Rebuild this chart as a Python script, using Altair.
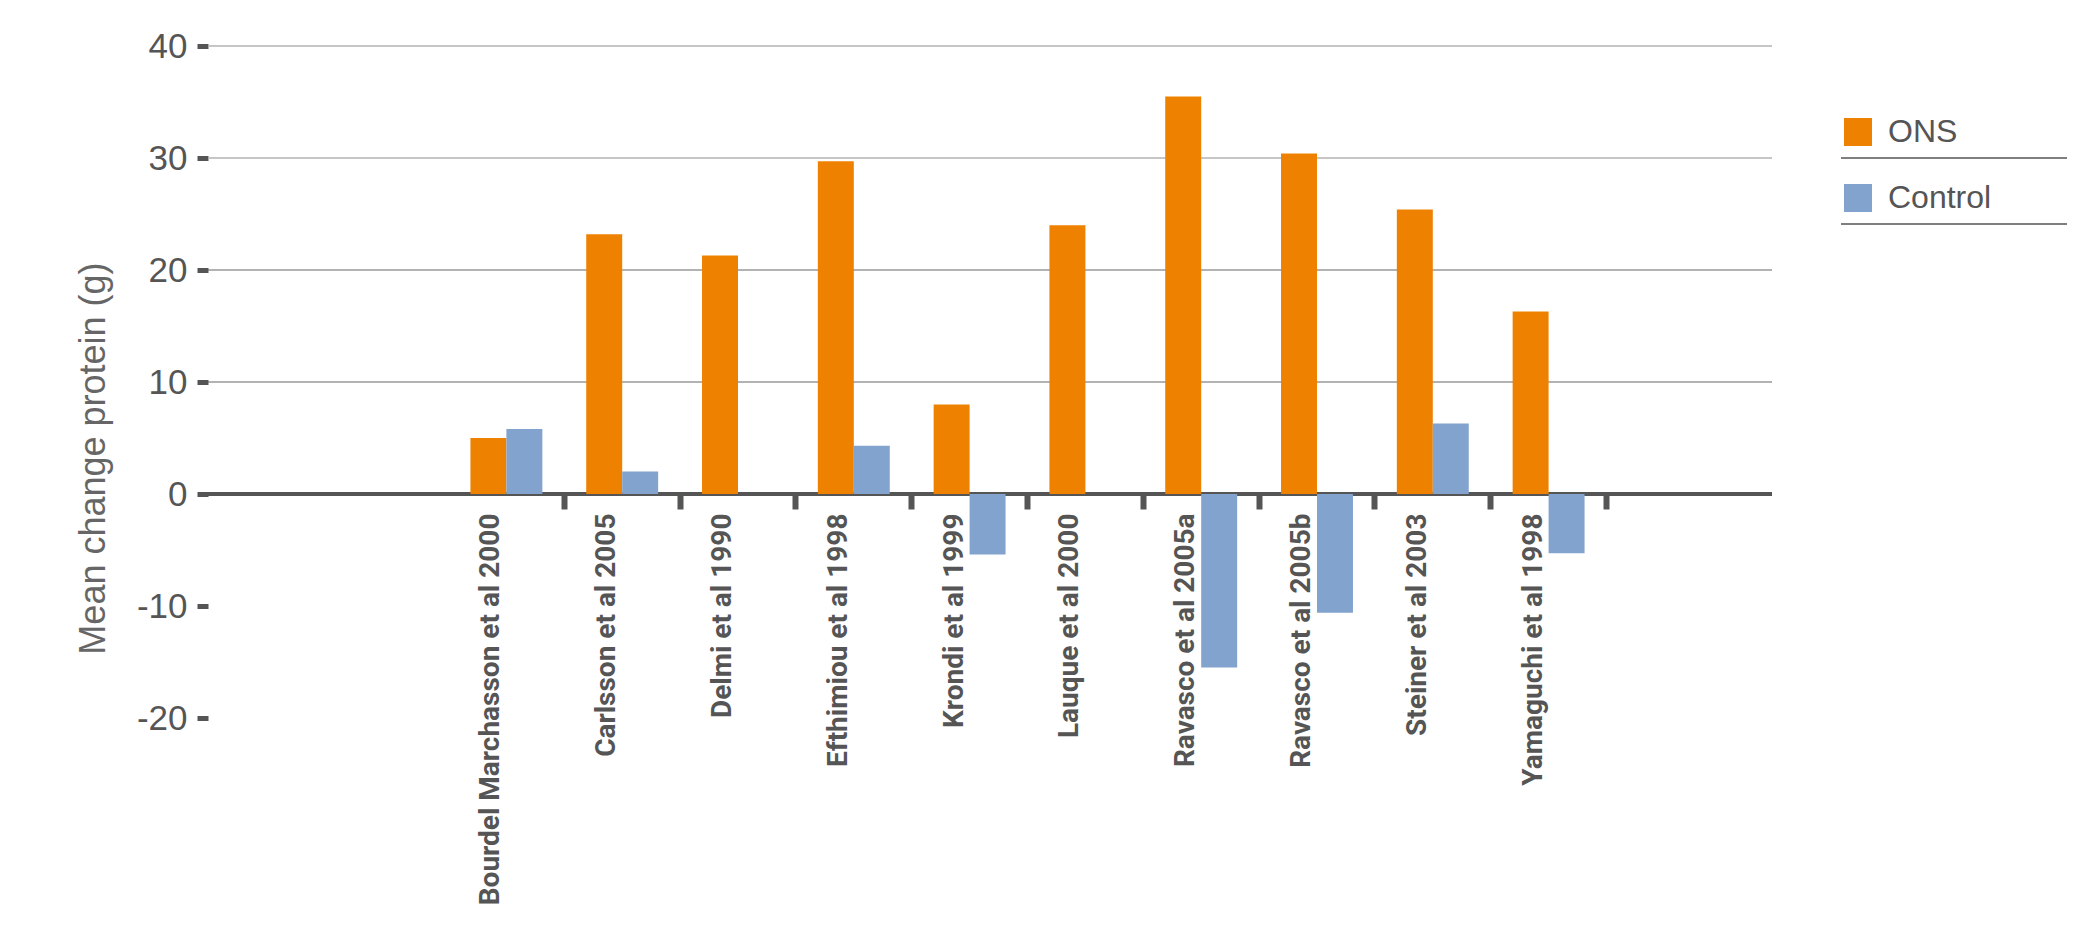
import altair as alt
import pandas as pd

studies = [
    "Bourdel Marchasson et al 2000",
    "Carlsson et al 2005",
    "Delmi et al 1990",
    "Efthimiou et al 1998",
    "Krondi et al 1999",
    "Lauque et al 2000",
    "Ravasco et al 2005a",
    "Ravasco et al 2005b",
    "Steiner et al 2003",
    "Yamaguchi et al 1998",
]
ons = [5.0, 23.2, 21.3, 29.7, 8.0, 24.0, 35.5, 30.4, 25.4, 16.3]
control = [5.8, 2.0, None, 4.3, -5.4, None, -15.5, -10.6, 6.3, -5.3]
series = ["ONS", "Control"]
colors = ["#EE8100", "#82A3CE"]
y_ticks = [-20, -10, 0, 10, 20, 30, 40]

rows = []
for s, o, c in zip(studies, ons, control):
    rows.append({"study": s, "series": "ONS", "value": o})
    if c is not None:
        rows.append({"study": s, "series": "Control", "value": c})
df = pd.DataFrame(rows)
ticks_df = pd.DataFrame({"value": y_ticks})

W, H = 1564, 672
Y_DOMAIN = [-20, 40]
zero_offset = H * Y_DOMAIN[1] / (Y_DOMAIN[1] - Y_DOMAIN[0]) - H  # x axis sits on zero

yscale = alt.Scale(domain=Y_DOMAIN, nice=False, zero=False)
y_axis = alt.Axis(
    values=y_ticks, labelExpr="'' + datum.value",
    title="Mean change protein (g)",
    titleFont="Liberation Sans", titleFontSize=36, titleFontWeight="normal",
    titleColor="#666666", titleAngle=270, titleX=-115, titleY=412,
    titleAlign="center", titleBaseline="middle",
    domain=False, ticks=True, tickSize=11, tickWidth=5, tickColor="#555555",
    labelFont="Liberation Sans", labelFontSize=35, labelColor="#555555",
    labelPadding=10, grid=False,
)

bars = alt.Chart(df).mark_bar().encode(
    x=alt.X(
        "study:N",
        sort=studies,
        scale=alt.Scale(domain=studies, paddingInner=0, paddingOuter=0, range=[240.5, 1398.5]),
        axis=alt.Axis(
            title=None, orient="bottom", offset=zero_offset,
            domain=False,
            ticks=True, bandPosition=1, tickSize=15, tickWidth=6, tickColor="#555555",
            labelAngle=-90, labelFont="Roboto, DejaVu Sans Condensed, sans-serif",
            labelFontSize=28, labelFontWeight="bold", labelColor="#555555",
            labelPadding=4, labelOffset=-15, labelLimit=600, grid=False,
        ),
    ),
    xOffset=alt.XOffset(
        "series:N", sort=series,
        scale=alt.Scale(domain=series, paddingInner=0, paddingOuter=0.61),
    ),
    y=alt.Y("value:Q", scale=yscale, axis=y_axis),
    color=alt.Color(
        "series:N", sort=series,
        scale=alt.Scale(domain=series, range=colors),
        legend=alt.Legend(
            title=None, orient="none", legendX=1634, legendY=70,
            symbolType="square", symbolSize=784, symbolStrokeWidth=0, symbolOpacity=1,
            labelFont="Liberation Sans", labelFontSize=32, labelColor="#555555",
            labelOffset=14, rowPadding=34, padding=0, labelLimit=300,
        ),
    ),
)

def grid(test, color, width):
    return alt.Chart(ticks_df).transform_filter(test).mark_rule(
        color=color, strokeWidth=width
    ).encode(
        y=alt.Y("value:Q", scale=yscale, axis=y_axis),
        x=alt.value(0),
        x2=alt.value(W),
    )

grid_light = grid("datum.value >= 30", "#b3b3b3", 1.5)
grid_dark = grid("datum.value > 0 && datum.value < 30", "#666666", 1.2)
zero_line = grid("datum.value === 0", "#555555", 4)

legend_lines = alt.Chart(
    pd.DataFrame({"series": series, "idx": list(range(len(series)))})
).mark_rule(color="#555555", strokeWidth=1.5).encode(
    y=alt.Y("idx:Q", scale=alt.Scale(domain=[0, 1], range=[112, 178]), axis=None),
    x=alt.value(1633),
    x2=alt.value(1859),
)

main = alt.layer(grid_light, grid_dark, zero_line, bars)

chart = alt.layer(main, legend_lines).resolve_scale(y="independent").properties(
    width=W, height=H,
    autosize=alt.AutoSizeParams(type="none"),
    padding={"left": 200, "top": 38, "right": 300, "bottom": 205},
    background="white",
).configure_view(stroke=None)

chart.save("out.html", embed_options={"renderer": "svg", "actions": False})
